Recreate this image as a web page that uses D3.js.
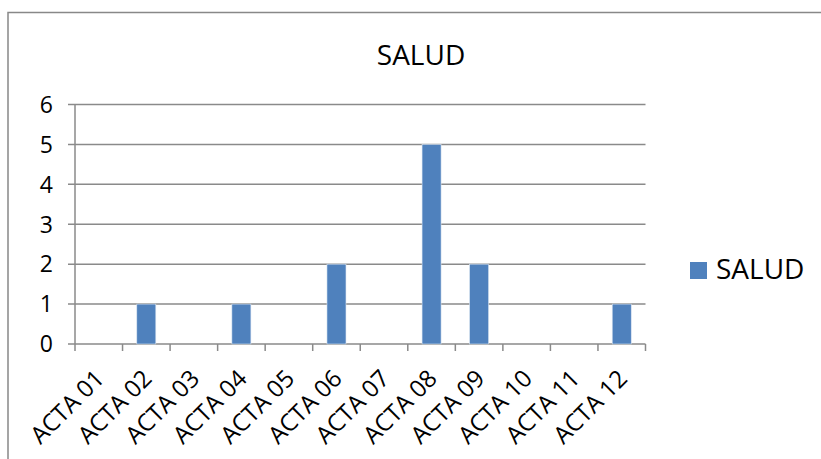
<!DOCTYPE html>
<html><head><meta charset="utf-8">
<script src="https://cdn.jsdelivr.net/npm/d3@7"></script>
<style>body{margin:0;background:#fff}svg{display:block}text{font-family:"Open Sans",sans-serif;fill:#000}</style>
</head><body><svg id="c" width="821" height="459"></svg>
<script>
const categories = ["ACTA 01","ACTA 02","ACTA 03","ACTA 04","ACTA 05","ACTA 06","ACTA 07","ACTA 08","ACTA 09","ACTA 10","ACTA 11","ACTA 12"];
const values = [0,1,0,1,0,2,0,5,2,0,0,1];
const yTicks = [0,1,2,3,4,5,6];
const seriesName = "SALUD";
const title = "SALUD";

const svg = d3.select("#c");
svg.append("rect").attr("x",8).attr("y",12.5).attr("width",830).attr("height",470)
  .attr("fill","#fff").attr("stroke","#888").attr("stroke-width",1.5);

const x = d3.scaleBand().domain(categories).range([75,645.5]).paddingInner(0.6).paddingOuter(0.3);
const xb = d3.scaleBand().domain(categories).range([75,645.5]);
const y = d3.scaleLinear().domain([0,6]).range([344,104.5]);
const gridColor = "#8a8a8a";

svg.append("g").selectAll("line").data(yTicks).join("line")
  .attr("x1",68).attr("x2",645.5).attr("y1",d=>y(d)).attr("y2",d=>y(d))
  .attr("stroke",gridColor).attr("stroke-width",1.5);

svg.append("g").selectAll("text").data(yTicks).join("text")
  .attr("x",53).attr("y",d=>y(d)).attr("dy","0.36em").attr("text-anchor","end")
  .attr("font-size",23).text(d=>d);

svg.append("line").attr("x1",75).attr("x2",75).attr("y1",104.5).attr("y2",344)
  .attr("stroke",gridColor).attr("stroke-width",1.5);

const edges = categories.map(c=>xb(c)).concat([645.5]);
svg.append("g").selectAll("line").data(edges).join("line")
  .attr("x1",d=>d).attr("x2",d=>d).attr("y1",344).attr("y2",351)
  .attr("stroke",gridColor).attr("stroke-width",1.5);

svg.append("g").selectAll("rect").data(values.map((v,i)=>({c:categories[i],v}))).join("rect")
  .attr("x",d=>x(d.c)).attr("width",x.bandwidth())
  .attr("y",d=>y(d.v)).attr("height",d=>y(0)-y(d.v))
  .attr("fill","#4F81BD").attr("stroke","#dbe6f2").attr("stroke-width",0.6);

svg.append("g").selectAll("text").data(categories).join("text")
  .attr("transform",d=>`translate(${xb(d)+xb.bandwidth()/2+7},${380}) rotate(-45)`)
  .attr("text-anchor","end").attr("font-size",24).text(d=>d);

svg.append("text").attr("x",421).attr("y",65).attr("text-anchor","middle")
  .attr("font-size",28).text(title);

svg.append("rect").attr("x",690).attr("y",262).attr("width",17).attr("height",17).attr("fill","#4F81BD");
svg.append("text").attr("x",716).attr("y",279).attr("font-size",28).text(seriesName);
</script></body></html>
